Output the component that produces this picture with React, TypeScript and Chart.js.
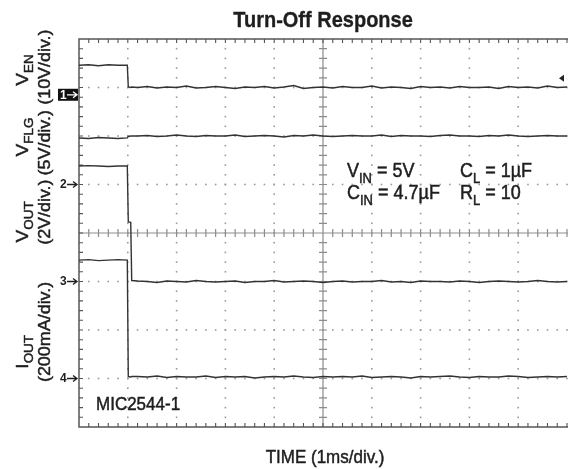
import React, { useEffect, useRef } from "react";
import { Chart, registerables } from "chart.js";

Chart.register(...registerables);

// ---------- data ----------
const TITLE = "Turn-Off Response";
const X_TITLE = "TIME (1ms/div.)";
const PART = "MIC2544-1";

// time in ms (1 ms / division); trace values in divisions from screen centre
const TIME_MS = [
  0, 0.2, 0.4, 0.6, 0.8, 0.99, 1.01, 1.06, 1.08,
  1.2, 1.4, 1.6, 1.8, 2.0, 2.2, 2.4, 2.6, 2.8,
  3.0, 3.2, 3.4, 3.6, 3.8, 4.0, 4.2, 4.4, 4.6,
  4.8, 5.0, 5.2, 5.4, 5.6, 5.8, 6.0, 6.2, 6.4,
  6.6, 6.8, 7.0, 7.2, 7.4, 7.6, 7.8, 8.0, 8.2,
  8.4, 8.6, 8.8, 9.0, 9.2, 9.4, 9.6, 9.8, 10.0,
];

const V_EN = [
  3.46, 3.47, 3.45, 3.47, 3.46, 3.46, 3.01, 3.0, 3.01,
  3.0, 3.02, 2.99, 3.01, 3.0, 3.03, 2.99, 3.0, 3.02,
  3.0, 2.98, 3.01, 3.0, 3.02, 2.99, 3.01, 3.04, 2.98,
  3.0, 3.01, 2.99, 3.02, 3.0, 3.0, 3.03, 2.99, 3.01,
  3.0, 2.98, 3.02, 3.0, 3.01, 2.99, 3.02, 3.0, 3.0,
  3.01, 2.98, 3.02, 3.0, 3.01, 2.99, 3.03, 3.0, 3.01,
];

const V_FLG = [
  1.96, 1.95, 1.97, 1.96, 1.95, 1.96, 1.99, 2.0, 2.0,
  2.0, 2.01, 1.99, 2.0, 2.02, 2.0, 1.99, 2.01, 2.0,
  2.0, 2.02, 1.99, 2.0, 2.01, 2.0, 1.98, 2.01, 2.0,
  2.02, 2.0, 1.99, 2.0, 2.01, 2.0, 2.0, 2.02, 1.99,
  2.01, 2.0, 2.0, 1.99, 2.01, 2.02, 2.0, 2.0, 1.99,
  2.01, 2.0, 2.02, 2.0, 1.99, 2.0, 2.01, 2.0, 2.0,
];

const V_OUT = [
  1.38, 1.39, 1.38, 1.37, 1.38, 1.38, 0.23, 0.22, -0.98,
  -0.99, -1.0, -1.02, -0.99, -1.0, -1.01, -0.98, -1.0, -1.01,
  -1.0, -0.99, -1.02, -1.0, -1.0, -0.98, -1.01, -1.0, -0.99,
  -1.0, -1.02, -1.0, -0.99, -1.01, -1.0, -1.0, -0.98, -1.01,
  -1.0, -1.02, -0.99, -1.0, -1.0, -1.01, -0.99, -1.0, -1.02,
  -1.0, -0.99, -1.0, -1.01, -1.0, -0.98, -1.0, -1.01, -1.0,
];

const I_OUT = [
  -0.56, -0.55, -0.57, -0.56, -0.55, -0.56, -2.96, -2.97, -2.96,
  -2.96, -2.97, -2.95, -2.98, -2.96, -2.97, -2.97, -2.95, -2.98,
  -2.96, -2.97, -2.96, -2.99, -2.97, -2.96, -2.97, -2.95, -2.97,
  -2.98, -2.96, -2.97, -2.96, -2.97, -2.95, -2.98, -2.97, -2.96,
  -2.97, -2.99, -2.96, -2.97, -2.96, -2.95, -2.97, -2.98, -2.96,
  -2.97, -2.97, -2.95, -2.96, -2.98, -2.97, -2.96, -2.97, -2.96,
];

// channel ground markers (division values)
const MARKER_LABELS = ["1", "2", "3", "4"];
const MARKER_LEVELS = [2.85, 1, -1, -3];
const TRIGGER_LEVEL = 3.19;

type Run = { t: string; sub?: boolean };
const Y_LABELS: { runs: Run[]; unit: string; nameAt: number; unitAt: number }[] = [
  { runs: [{ t: "V" }, { t: "EN", sub: true }], unit: "(10V/div.)", nameAt: 3.36, unitAt: 3.42 },
  { runs: [{ t: "V" }, { t: "FLG", sub: true }], unit: "(5V/div.)", nameAt: 1.98, unitAt: 1.86 },
  { runs: [{ t: "V" }, { t: "OUT", sub: true }], unit: "(2V/div.)", nameAt: 0.23, unitAt: 0.43 },
  { runs: [{ t: "I" }, { t: "OUT", sub: true }], unit: "(200mA/div.)", nameAt: -2.45, unitAt: -2.04 },
];

const NOTES: Run[][] = [
  [{ t: "V" }, { t: "IN", sub: true }, { t: " = 5V" }],
  [{ t: "C" }, { t: "L", sub: true }, { t: " = 1µF" }],
  [{ t: "C" }, { t: "IN", sub: true }, { t: " = 4.7µF" }],
  [{ t: "R" }, { t: "L", sub: true }, { t: " = 10" }],
];

// ---------- styling ----------
const FONT = '"Liberation Sans", Arial, Helvetica, sans-serif';
const TRACE = "#333333";
const TEXT = "#1e1e1e";
const DOT = "#9a9a9a";
const AXIS = "#555555";
const CENTER = "#8c8c8c";
const X_MIN = 0, X_MAX = 10, Y_MIN = -4, Y_MAX = 4, MINOR = 0.2;
const STRETCH = 1.12;

function runsWidth(ctx: CanvasRenderingContext2D, runs: Run[], size: number, bold: boolean) {
  let w = 0;
  for (const r of runs) {
    ctx.font = `${bold ? "bold " : ""}${r.sub ? Math.round(size * 0.7) : size}px ${FONT}`;
    w += ctx.measureText(r.t).width;
  }
  return w;
}

function drawRuns(
  ctx: CanvasRenderingContext2D,
  runs: Run[],
  x: number,
  y: number,
  size: number,
  align: "left" | "center",
  bold = false
) {
  const w = runsWidth(ctx, runs, size, bold);
  let cx = align === "center" ? x - w / 2 : x;
  ctx.textBaseline = "alphabetic";
  ctx.textAlign = "left";
  ctx.strokeStyle = ctx.fillStyle as string;
  ctx.lineWidth = bold ? 0.3 : 0.45;
  for (const r of runs) {
    const s = r.sub ? Math.round(size * 0.7) : size;
    ctx.font = `${bold ? "bold " : ""}${s}px ${FONT}`;
    const yy = r.sub ? y + size * 0.3 : y;
    ctx.fillText(r.t, cx, yy);
    ctx.strokeText(r.t, cx, yy);
    cx += ctx.measureText(r.t).width;
  }
}

const scopePlugin = {
  id: "scope",
  beforeDatasetsDraw(chart: any) {
    const { ctx, chartArea: a, scales } = chart;
    const xs = scales.x, ys = scales.y;
    ctx.save();
    // dotted graticule
    ctx.fillStyle = DOT;
    for (let xm = X_MIN + 1; xm < X_MAX; xm++) {
      if (xm === 5) continue;
      const px = xs.getPixelForValue(xm);
      for (let v = Y_MIN + MINOR; v < Y_MAX - 1e-6; v += MINOR) {
        ctx.fillRect(px - 0.8, ys.getPixelForValue(v) - 0.8, 1.6, 1.6);
      }
    }
    for (let ym = Y_MIN + 1; ym < Y_MAX; ym++) {
      if (ym === 0) continue;
      const py = ys.getPixelForValue(ym);
      for (let t = X_MIN + MINOR; t < X_MAX + 0.5; t += MINOR) {
        ctx.fillRect(xs.getPixelForValue(t) - 0.8, py - 0.8, 1.6, 1.6);
      }
    }
    // centre cross
    const cx = xs.getPixelForValue(5), cy = ys.getPixelForValue(0);
    ctx.strokeStyle = CENTER;
    ctx.lineWidth = 1.2;
    ctx.beginPath();
    ctx.moveTo(cx, a.top); ctx.lineTo(cx, a.bottom);
    ctx.moveTo(a.left, cy); ctx.lineTo(a.right + 2, cy);
    for (let v = Y_MIN + MINOR; v < Y_MAX; v += MINOR) {
      const py = ys.getPixelForValue(v);
      ctx.moveTo(cx - 4, py); ctx.lineTo(cx + 4, py);
    }
    for (let t = X_MIN + MINOR; t < X_MAX + 0.1; t += MINOR) {
      const px = xs.getPixelForValue(t);
      ctx.moveTo(px, cy - 4); ctx.lineTo(px, cy + 4);
    }
    ctx.stroke();
    // border with ticks
    ctx.strokeStyle = AXIS;
    ctx.lineWidth = 1.5;
    ctx.beginPath();
    ctx.moveTo(a.right + 2, a.top); ctx.lineTo(a.left, a.top); ctx.lineTo(a.left, a.bottom); ctx.lineTo(a.right + 2, a.bottom);
    ctx.stroke();
    ctx.lineWidth = 1.1;
    ctx.beginPath();
    for (let t = X_MIN + MINOR; t < X_MAX + 0.1; t += MINOR) {
      const px = xs.getPixelForValue(t);
      ctx.moveTo(px, a.top); ctx.lineTo(px, a.top + 4);
      ctx.moveTo(px, a.bottom); ctx.lineTo(px, a.bottom - 4);
    }
    for (let v = Y_MIN + MINOR; v < Y_MAX; v += MINOR) {
      const py = ys.getPixelForValue(v);
      ctx.moveTo(a.left, py); ctx.lineTo(a.left + 4, py);
    }
    ctx.stroke();
    ctx.restore();
  },
  afterDatasetsDraw(chart: any) {
    const { ctx, chartArea: a, scales } = chart;
    const ys = scales.y;
    ctx.save();
    ctx.fillStyle = TEXT;
    // title
    ctx.save();
    ctx.translate(0, 27);
    ctx.scale(1, STRETCH);
    drawRuns(ctx, [{ t: TITLE }], 323, 0, 20, "center", true);
    ctx.restore();
    // x title
    ctx.save();
    ctx.translate(0, 463);
    ctx.scale(1, STRETCH);
    drawRuns(ctx, [{ t: X_TITLE }], 325, 0, 17, "center");
    ctx.restore();
    // part label
    ctx.save();
    ctx.translate(0, 410);
    ctx.scale(1, STRETCH);
    drawRuns(ctx, [{ t: PART }], 96, 0, 17, "left");
    ctx.restore();
    // notes
    const noteX = [347, 460, 347, 460];
    const noteY = [177, 177, 199, 199];
    NOTES.forEach((runs, i) => {
      ctx.save();
      ctx.translate(0, noteY[i]);
      ctx.scale(1, STRETCH);
      drawRuns(ctx, runs, noteX[i], 0, 18, "left");
      ctx.restore();
    });
    // rotated y labels
    Y_LABELS.forEach((lab) => {
      ctx.save();
      ctx.translate(28, ys.getPixelForValue(lab.nameAt));
      ctx.rotate(-Math.PI / 2);
      ctx.scale(STRETCH, 1);
      drawRuns(ctx, lab.runs, 0, 0, 17, "center");
      ctx.restore();
      ctx.save();
      ctx.translate(50, ys.getPixelForValue(lab.unitAt));
      ctx.rotate(-Math.PI / 2);
      ctx.scale(STRETCH, 1);
      drawRuns(ctx, [{ t: lab.unit }], 0, 0, 16, "center");
      ctx.restore();
    });
    // channel markers
    MARKER_LABELS.forEach((m, i) => {
      const py = ys.getPixelForValue(MARKER_LEVELS[i]);
      if (i === 0) {
        ctx.fillStyle = "#111";
        ctx.fillRect(58, py - 6, 20, 12);
        ctx.fillStyle = "#fff";
        ctx.strokeStyle = "#fff";
      } else {
        ctx.fillStyle = TEXT;
        ctx.strokeStyle = TEXT;
      }
      ctx.font = `bold 12px ${FONT}`;
      ctx.textBaseline = "middle";
      ctx.textAlign = "left";
      ctx.fillText(m, 60, py + 0.5);
      ctx.lineWidth = 1.3;
      ctx.beginPath();
      ctx.moveTo(67, py); ctx.lineTo(77, py);
      ctx.moveTo(73, py - 3); ctx.lineTo(77, py); ctx.lineTo(73, py + 3);
      ctx.stroke();
    });
    // trigger marker
    const ty = ys.getPixelForValue(TRIGGER_LEVEL);
    ctx.fillStyle = "#222";
    ctx.beginPath();
    ctx.moveTo(a.right - 8, ty);
    ctx.lineTo(a.right - 3, ty - 3.5);
    ctx.lineTo(a.right - 3, ty + 3.5);
    ctx.closePath();
    ctx.fill();
    ctx.restore();
  },
};

const traces = [V_EN, V_FLG, V_OUT, I_OUT];

export default function App() {
  const ref = useRef<HTMLCanvasElement>(null);
  useEffect(() => {
    document.body.style.margin = "0";
    const chart = new Chart(ref.current as HTMLCanvasElement, {
      type: "line",
      data: {
        datasets: traces.map((arr) => ({
          data: TIME_MS.map((t, i) => ({ x: t, y: arr[i] })),
          borderColor: TRACE,
          borderWidth: 1.4,
          pointRadius: 0,
          tension: 0,
          fill: false,
        })),
      },
      options: {
        animation: false,
        responsive: false,
        layout: { padding: { left: 79, top: 39, right: 1, bottom: 42 } },
        scales: {
          x: { type: "linear", min: X_MIN, max: X_MAX, display: false },
          y: { type: "linear", min: Y_MIN, max: Y_MAX, display: false },
        },
        plugins: { legend: { display: false }, tooltip: { enabled: false }, title: { display: false } },
      },
      plugins: [scopePlugin],
    } as any);
    return () => chart.destroy();
  }, []);
  return (
    <div style={{ position: "absolute", left: 0, top: 0, width: 568, height: 469, background: "#fff" }}>
      <canvas ref={ref} width={568} height={469} style={{ display: "block", width: 568, height: 469 }} />
    </div>
  );
}
